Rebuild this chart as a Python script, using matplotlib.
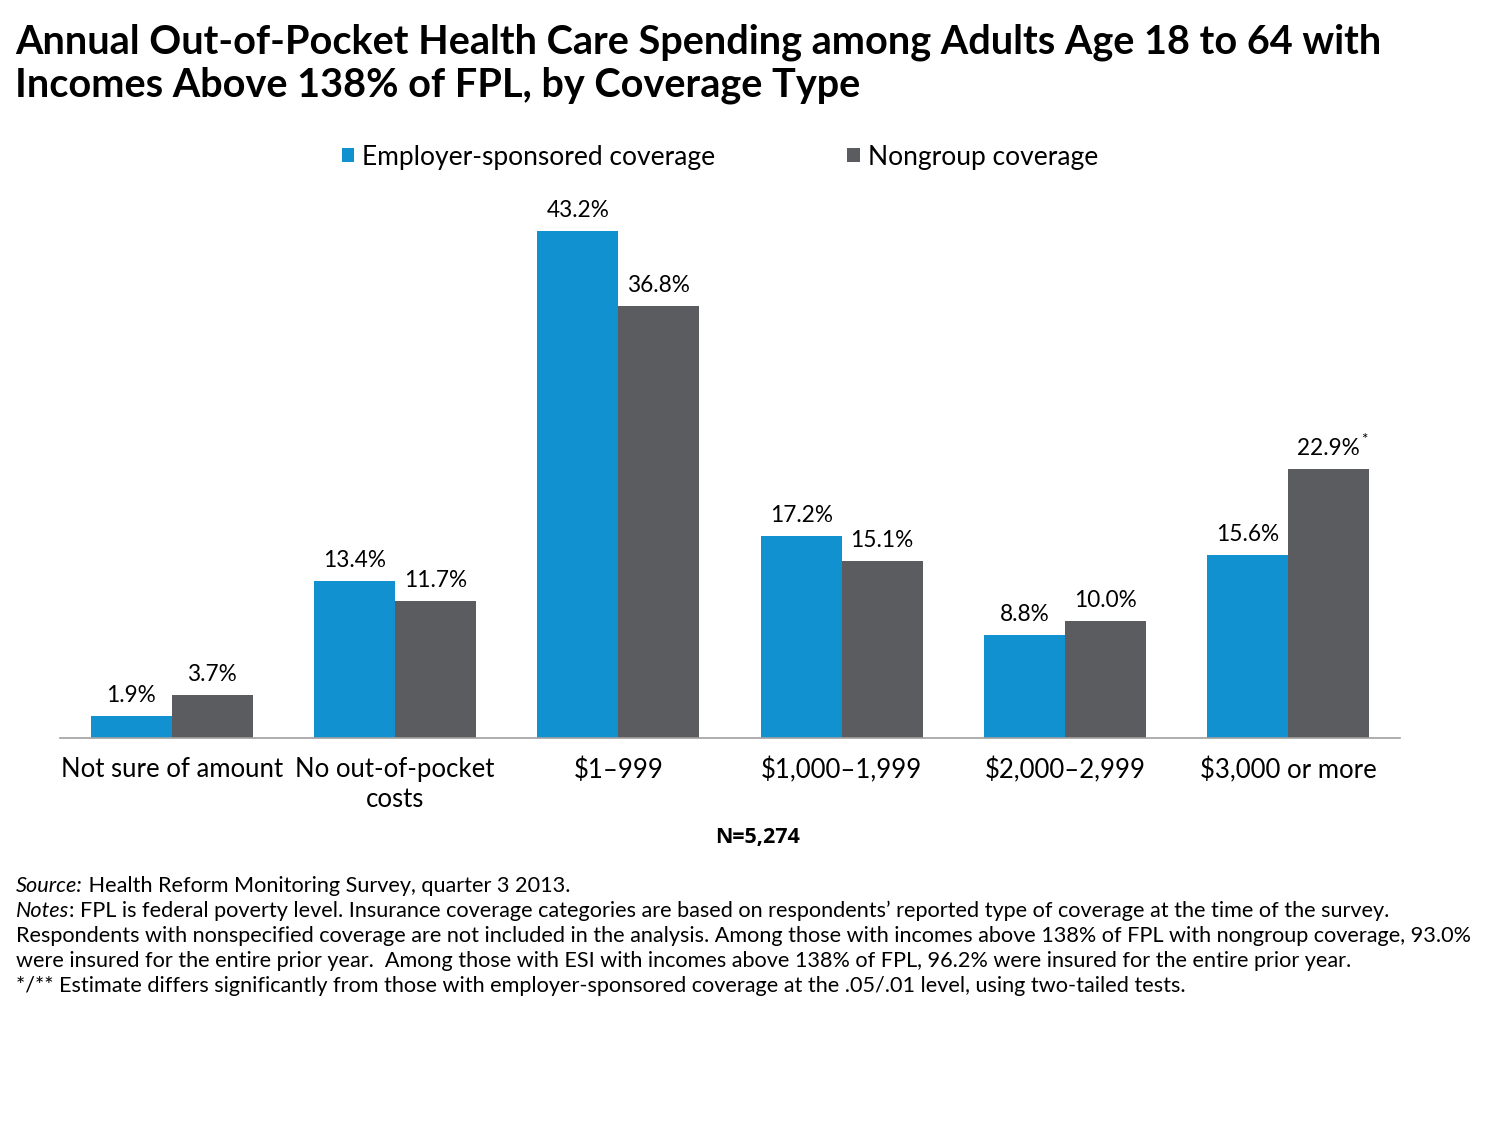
import matplotlib.pyplot as plt
import numpy as np

plt.rcParams['font.family'] = ['Lato', 'DejaVu Sans']

categories = ["Not sure of amount", "No out-of-pocket\ncosts", "$1\u2013999",
              "$1,000\u20131,999", "$2,000\u20132,999", "$3,000 or more"]
employer = [1.9, 13.4, 43.2, 17.2, 8.8, 15.6]
nongroup = [3.7, 11.7, 36.8, 15.1, 10.0, 22.9]
nongroup_sig = ["", "", "", "", "", "*"]
series_names = ["Employer-sponsored coverage", "Nongroup coverage"]

blue = "#1191CF"
gray = "#5B5C60"

fig = plt.figure(figsize=(15.01, 11.25), dpi=100)
ax = fig.add_axes([60 / 1501, 387 / 1125, 1340 / 1501, 528 / 1125])

x = np.arange(len(categories))
w = 0.363
b1 = ax.bar(x - w / 2, employer, w, color=blue, label=series_names[0])
b2 = ax.bar(x + w / 2, nongroup, w, color=gray, label=series_names[1])

for rect, v in zip(b1, employer):
    ax.text(rect.get_x() + rect.get_width() / 2, v + 0.85, f"{v:.1f}%",
            ha="center", va="bottom", fontsize=16.3)
for rect, v, s in zip(b2, nongroup, nongroup_sig):
    cx = rect.get_x() + rect.get_width() / 2
    ax.text(cx, v + 0.85, f"{v:.1f}%", ha="center", va="bottom", fontsize=16.3)
    if s:
        ax.annotate(s, (cx, v + 0.85), xytext=(23, 9), textcoords="offset points",
                    ha="left", va="bottom", fontsize=11)

ax.set_xlim(-0.5, len(categories) - 0.5)
ax.set_ylim(0, 45)
ax.set_xticks(x)
ax.set_xticklabels(categories, fontsize=18.5, linespacing=1.25)
ax.tick_params(axis="x", length=0, pad=14)
ax.set_yticks([])
for sp in ["top", "right", "left"]:
    ax.spines[sp].set_visible(False)
ax.spines["bottom"].set_color("#A0A0A0")
ax.spines["bottom"].set_linewidth(1.2)

fig.legend(handles=[b1, b2], loc="center", bbox_to_anchor=(720 / 1501, 1 - 157 / 1125),
           ncol=2, frameon=False, fontsize=19, handlelength=0.47, handleheight=0.47,
           handletextpad=0.3, columnspacing=5.0)

fig.text(15 / 1501, 1 - 42 / 1125,
         "Annual Out-of-Pocket Health Care Spending among Adults Age 18 to 64 with",
         fontsize=28.5, fontweight="bold", va="center", ha="left")
fig.text(15 / 1501, 1 - 85 / 1125,
         "Incomes Above 138% of FPL, by Coverage Type",
         fontsize=28.5, fontweight="bold", va="center", ha="left")

fig.text(758 / 1501, 1 - 838 / 1125, "N=5,274", fontsize=15.5, fontweight="bold",
         ha="center", va="center", family=["Open Sans", "DejaVu Sans"])

notes = [
    ("Source:", " Health Reform Monitoring Survey, quarter 3 2013."),
    ("Notes", ": FPL is federal poverty level. Insurance coverage categories are based on respondents\u2019 reported type of coverage at the time of the survey."),
    ("", "Respondents with nonspecified coverage are not included in the analysis. Among those with incomes above 138% of FPL with nongroup coverage, 93.0%"),
    ("", "were insured for the entire prior year.  Among those with ESI with incomes above 138% of FPL, 96.2% were insured for the entire prior year."),
    ("", "*/** Estimate differs significantly from those with employer-sponsored coverage at the .05/.01 level, using two-tailed tests."),
]
y0 = 886
for i, (it, rest) in enumerate(notes):
    yy = 1 - (y0 + 25 * i) / 1125
    if it:
        t = fig.text(16 / 1501, yy, it, fontsize=15.6, style="italic", va="center", ha="left")
        fig.canvas.draw()
        bb = t.get_window_extent()
        fig.text(bb.x1 / 1501, yy, rest, fontsize=15.6, va="center", ha="left")
    else:
        fig.text(16 / 1501, yy, rest, fontsize=15.6, va="center", ha="left")

fig.savefig("out.png", dpi=100)
